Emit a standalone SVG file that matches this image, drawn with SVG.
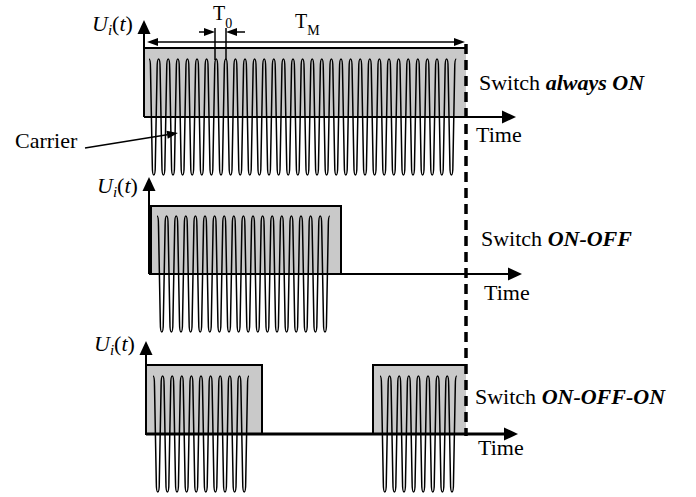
<svg xmlns="http://www.w3.org/2000/svg" width="696" height="497" viewBox="0 0 696 497">
<defs>
<style>
text{font-family:"Liberation Serif","Times New Roman",serif;fill:#000}
.lbl{font-size:22px}
.it{font-style:italic}
.bi{font-style:italic;font-weight:bold}
.sub{font-size:15px;font-style:italic}
.box{fill:#c9c9c9;stroke:none}
.edge{fill:none;stroke:#000;stroke-width:2}
.axis{fill:none;stroke:#000;stroke-width:2}
.wave{fill:none;stroke:#000;stroke-width:1.5;stroke-linejoin:round}
.thin{fill:none;stroke:#000;stroke-width:1.5}
</style>
<marker id="ah" markerUnits="userSpaceOnUse" markerWidth="14" markerHeight="13" refX="0" refY="6.5" orient="auto" overflow="visible">
<path d="M0,0 L14,6.5 L0,13 z" fill="#000"/>
</marker>
<marker id="sa" markerUnits="userSpaceOnUse" markerWidth="11" markerHeight="8" refX="0" refY="4" orient="auto-start-reverse" overflow="visible">
<path d="M0,0 L11,4 L0,8 z" fill="#000"/>
</marker>
</defs>
<rect width="696" height="497" fill="#fff"/>

<g id="panel1">
<rect class="box" x="144" y="48" width="322" height="69"/>
<path class="edge" d="M466,48 H144 V117"/>
<path class="wave" d="M149,59
c1.2,0 1.5,4 1.5,10 l1.8,96 c0,6 0.3,10 1.5,10 c1.2,0 1.5,-4 1.5,-10 l1.8,-96 c0,-6 0.3,-10 1.5,-10 c1.2,0 1.5,4 1.5,10 l1.8,96 c0,6 0.3,10 1.5,10 c1.2,0 1.5,-4 1.5,-10 l1.8,-96 c0,-6 0.3,-10 1.5,-10
c1.2,0 1.5,4 1.5,10 l1.8,96 c0,6 0.3,10 1.5,10 c1.2,0 1.5,-4 1.5,-10 l1.8,-96 c0,-6 0.3,-10 1.5,-10 c1.2,0 1.5,4 1.5,10 l1.8,96 c0,6 0.3,10 1.5,10 c1.2,0 1.5,-4 1.5,-10 l1.8,-96 c0,-6 0.3,-10 1.5,-10
c1.2,0 1.5,4 1.5,10 l1.8,96 c0,6 0.3,10 1.5,10 c1.2,0 1.5,-4 1.5,-10 l1.8,-96 c0,-6 0.3,-10 1.5,-10 c1.2,0 1.5,4 1.5,10 l1.8,96 c0,6 0.3,10 1.5,10 c1.2,0 1.5,-4 1.5,-10 l1.8,-96 c0,-6 0.3,-10 1.5,-10
c1.2,0 1.5,4 1.5,10 l1.8,96 c0,6 0.3,10 1.5,10 c1.2,0 1.5,-4 1.5,-10 l1.8,-96 c0,-6 0.3,-10 1.5,-10 c1.2,0 1.5,4 1.5,10 l1.8,96 c0,6 0.3,10 1.5,10 c1.2,0 1.5,-4 1.5,-10 l1.8,-96 c0,-6 0.3,-10 1.5,-10
c1.2,0 1.5,4 1.5,10 l1.8,96 c0,6 0.3,10 1.5,10 c1.2,0 1.5,-4 1.5,-10 l1.8,-96 c0,-6 0.3,-10 1.5,-10 c1.2,0 1.5,4 1.5,10 l1.8,96 c0,6 0.3,10 1.5,10 c1.2,0 1.5,-4 1.5,-10 l1.8,-96 c0,-6 0.3,-10 1.5,-10
c1.2,0 1.5,4 1.5,10 l1.8,96 c0,6 0.3,10 1.5,10 c1.2,0 1.5,-4 1.5,-10 l1.8,-96 c0,-6 0.3,-10 1.5,-10 c1.2,0 1.5,4 1.5,10 l1.8,96 c0,6 0.3,10 1.5,10 c1.2,0 1.5,-4 1.5,-10 l1.8,-96 c0,-6 0.3,-10 1.5,-10
c1.2,0 1.5,4 1.5,10 l1.8,96 c0,6 0.3,10 1.5,10 c1.2,0 1.5,-4 1.5,-10 l1.8,-96 c0,-6 0.3,-10 1.5,-10 c1.2,0 1.5,4 1.5,10 l1.8,96 c0,6 0.3,10 1.5,10 c1.2,0 1.5,-4 1.5,-10 l1.8,-96 c0,-6 0.3,-10 1.5,-10
c1.2,0 1.5,4 1.5,10 l1.8,96 c0,6 0.3,10 1.5,10 c1.2,0 1.5,-4 1.5,-10 l1.8,-96 c0,-6 0.3,-10 1.5,-10 c1.2,0 1.5,4 1.5,10 l1.8,96 c0,6 0.3,10 1.5,10 c1.2,0 1.5,-4 1.5,-10 l1.8,-96 c0,-6 0.3,-10 1.5,-10
c1.2,0 1.5,4 1.5,10 l1.8,96 c0,6 0.3,10 1.5,10 c1.2,0 1.5,-4 1.5,-10 l1.8,-96 c0,-6 0.3,-10 1.5,-10 c1.2,0 1.5,4 1.5,10 l1.8,96 c0,6 0.3,10 1.5,10 c1.2,0 1.5,-4 1.5,-10 l1.8,-96 c0,-6 0.3,-10 1.5,-10
c1.2,0 1.5,4 1.5,10 l1.8,96 c0,6 0.3,10 1.5,10 c1.2,0 1.5,-4 1.5,-10 l1.8,-96 c0,-6 0.3,-10 1.5,-10 c1.2,0 1.5,4 1.5,10 l1.8,96 c0,6 0.3,10 1.5,10 c1.2,0 1.5,-4 1.5,-10 l1.8,-96 c0,-6 0.3,-10 1.5,-10
c1.2,0 1.5,4 1.5,10 l1.8,96 c0,6 0.3,10 1.5,10 c1.2,0 1.5,-4 1.5,-10 l1.8,-96 c0,-6 0.3,-10 1.5,-10 c1.2,0 1.5,4 1.5,10 l1.8,96 c0,6 0.3,10 1.5,10 c1.2,0 1.5,-4 1.5,-10 l1.8,-96 c0,-6 0.3,-10 1.5,-10
c1.2,0 1.5,4 1.5,10 l1.8,96 c0,6 0.3,10 1.5,10 c1.2,0 1.5,-4 1.5,-10 l1.8,-96 c0,-6 0.3,-10 1.5,-10 c1.2,0 1.5,4 1.5,10 l1.8,96 c0,6 0.3,10 1.5,10 c1.2,0 1.5,-4 1.5,-10 l1.8,-96 c0,-6 0.3,-10 1.5,-10
c1.2,0 1.5,4 1.5,10 l1.8,96 c0,6 0.3,10 1.5,10 c1.2,0 1.5,-4 1.5,-10 l1.8,-96 c0,-6 0.3,-10 1.5,-10 c1.2,0 1.5,4 1.5,10 l1.8,96 c0,6 0.3,10 1.5,10 c1.2,0 1.5,-4 1.5,-10 l1.8,-96 c0,-6 0.3,-10 1.5,-10
c1.2,0 1.5,4 1.5,10 l1.8,96 c0,6 0.3,10 1.5,10 c1.2,0 1.5,-4 1.5,-10 l1.8,-96 c0,-6 0.3,-10 1.5,-10 c1.2,0 1.5,4 1.5,10 l1.8,96 c0,6 0.3,10 1.5,10 c1.2,0 1.5,-4 1.5,-10 l1.8,-96 c0,-6 0.3,-10 1.5,-10
c1.2,0 1.5,4 1.5,10 l1.8,96 c0,6 0.3,10 1.5,10 c1.2,0 1.5,-4 1.5,-10 l1.8,-96 c0,-6 0.3,-10 1.5,-10 c1.2,0 1.5,4 1.5,10 l1.8,96 c0,6 0.3,10 1.5,10 c1.2,0 1.5,-4 1.5,-10 l1.8,-96 c0,-6 0.3,-10 1.5,-10
c1.2,0 1.5,4 1.5,10 l1.8,96 c0,6 0.3,10 1.5,10 c1.2,0 1.5,-4 1.5,-10 l1.8,-96 c0,-6 0.3,-10 1.5,-10 c1.2,0 1.5,4 1.5,10 l1.8,96 c0,6 0.3,10 1.5,10 c1.2,0 1.5,-4 1.5,-10 l1.8,-96 c0,-6 0.3,-10 1.5,-10"/>
<line class="axis" x1="144" y1="117" x2="144" y2="34" marker-end="url(#ah)"/>
<line class="axis" x1="144" y1="117" x2="502" y2="117" marker-end="url(#ah)"/>
<text class="lbl" x="92" y="31"><tspan class="it">U</tspan><tspan class="sub" dy="4">i</tspan><tspan dy="-4">(</tspan><tspan class="it">t</tspan>)</text>
<text class="lbl" x="479" y="90">Switch <tspan class="bi">always ON</tspan></text>
<text class="lbl" x="476" y="142">Time</text>
</g>

<g id="panel2">
<rect class="box" x="151" y="206" width="190" height="68"/>
<rect class="edge" x="151" y="206" width="190" height="68"/>
<path class="wave" d="M157,216
c1.2,0 1.5,4 1.5,10 l1.8,96 c0,6 0.3,10 1.5,10 c1.2,0 1.5,-4 1.5,-10 l1.8,-96 c0,-6 0.3,-10 1.5,-10 c1.2,0 1.5,4 1.5,10 l1.8,96 c0,6 0.3,10 1.5,10 c1.2,0 1.5,-4 1.5,-10 l1.8,-96 c0,-6 0.3,-10 1.5,-10
c1.2,0 1.5,4 1.5,10 l1.8,96 c0,6 0.3,10 1.5,10 c1.2,0 1.5,-4 1.5,-10 l1.8,-96 c0,-6 0.3,-10 1.5,-10 c1.2,0 1.5,4 1.5,10 l1.8,96 c0,6 0.3,10 1.5,10 c1.2,0 1.5,-4 1.5,-10 l1.8,-96 c0,-6 0.3,-10 1.5,-10
c1.2,0 1.5,4 1.5,10 l1.8,96 c0,6 0.3,10 1.5,10 c1.2,0 1.5,-4 1.5,-10 l1.8,-96 c0,-6 0.3,-10 1.5,-10 c1.2,0 1.5,4 1.5,10 l1.8,96 c0,6 0.3,10 1.5,10 c1.2,0 1.5,-4 1.5,-10 l1.8,-96 c0,-6 0.3,-10 1.5,-10
c1.2,0 1.5,4 1.5,10 l1.8,96 c0,6 0.3,10 1.5,10 c1.2,0 1.5,-4 1.5,-10 l1.8,-96 c0,-6 0.3,-10 1.5,-10 c1.2,0 1.5,4 1.5,10 l1.8,96 c0,6 0.3,10 1.5,10 c1.2,0 1.5,-4 1.5,-10 l1.8,-96 c0,-6 0.3,-10 1.5,-10
c1.2,0 1.5,4 1.5,10 l1.8,96 c0,6 0.3,10 1.5,10 c1.2,0 1.5,-4 1.5,-10 l1.8,-96 c0,-6 0.3,-10 1.5,-10 c1.2,0 1.5,4 1.5,10 l1.8,96 c0,6 0.3,10 1.5,10 c1.2,0 1.5,-4 1.5,-10 l1.8,-96 c0,-6 0.3,-10 1.5,-10
c1.2,0 1.5,4 1.5,10 l1.8,96 c0,6 0.3,10 1.5,10 c1.2,0 1.5,-4 1.5,-10 l1.8,-96 c0,-6 0.3,-10 1.5,-10 c1.2,0 1.5,4 1.5,10 l1.8,96 c0,6 0.3,10 1.5,10 c1.2,0 1.5,-4 1.5,-10 l1.8,-96 c0,-6 0.3,-10 1.5,-10
c1.2,0 1.5,4 1.5,10 l1.8,96 c0,6 0.3,10 1.5,10 c1.2,0 1.5,-4 1.5,-10 l1.8,-96 c0,-6 0.3,-10 1.5,-10 c1.2,0 1.5,4 1.5,10 l1.8,96 c0,6 0.3,10 1.5,10 c1.2,0 1.5,-4 1.5,-10 l1.8,-96 c0,-6 0.3,-10 1.5,-10
c1.2,0 1.5,4 1.5,10 l1.8,96 c0,6 0.3,10 1.5,10 c1.2,0 1.5,-4 1.5,-10 l1.8,-96 c0,-6 0.3,-10 1.5,-10 c1.2,0 1.5,4 1.5,10 l1.8,96 c0,6 0.3,10 1.5,10 c1.2,0 1.5,-4 1.5,-10 l1.8,-96 c0,-6 0.3,-10 1.5,-10
c1.2,0 1.5,4 1.5,10 l1.8,96 c0,6 0.3,10 1.5,10 c1.2,0 1.5,-4 1.5,-10 l1.8,-96 c0,-6 0.3,-10 1.5,-10 c1.2,0 1.5,4 1.5,10 l1.8,96 c0,6 0.3,10 1.5,10 c1.2,0 1.5,-4 1.5,-10 l1.8,-96 c0,-6 0.3,-10 1.5,-10"/>
<line class="axis" x1="149" y1="274" x2="149" y2="191" marker-end="url(#ah)"/>
<line class="axis" x1="149" y1="274" x2="508" y2="274" marker-end="url(#ah)"/>
<text class="lbl" x="97" y="193"><tspan class="it">U</tspan><tspan class="sub" dy="4">i</tspan><tspan dy="-4">(</tspan><tspan class="it">t</tspan>)</text>
<text class="lbl" x="481" y="246">Switch <tspan class="bi">ON-OFF</tspan></text>
<text class="lbl" x="484" y="300">Time</text>
</g>

<g id="panel3">
<rect class="box" x="146" y="365" width="116" height="69"/>
<rect class="edge" x="146" y="365" width="116" height="69"/>
<rect class="box" x="373" y="365" width="93" height="69"/>
<path class="edge" d="M466,365 H373 V434"/>
<path class="wave" d="M153,376
c1.2,0 1.5,4 1.5,10 l1.8,96 c0,6 0.3,10 1.5,10 c1.2,0 1.5,-4 1.5,-10 l1.8,-96 c0,-6 0.3,-10 1.5,-10 c1.2,0 1.5,4 1.5,10 l1.8,96 c0,6 0.3,10 1.5,10 c1.2,0 1.5,-4 1.5,-10 l1.8,-96 c0,-6 0.3,-10 1.5,-10
c1.2,0 1.5,4 1.5,10 l1.8,96 c0,6 0.3,10 1.5,10 c1.2,0 1.5,-4 1.5,-10 l1.8,-96 c0,-6 0.3,-10 1.5,-10 c1.2,0 1.5,4 1.5,10 l1.8,96 c0,6 0.3,10 1.5,10 c1.2,0 1.5,-4 1.5,-10 l1.8,-96 c0,-6 0.3,-10 1.5,-10
c1.2,0 1.5,4 1.5,10 l1.8,96 c0,6 0.3,10 1.5,10 c1.2,0 1.5,-4 1.5,-10 l1.8,-96 c0,-6 0.3,-10 1.5,-10 c1.2,0 1.5,4 1.5,10 l1.8,96 c0,6 0.3,10 1.5,10 c1.2,0 1.5,-4 1.5,-10 l1.8,-96 c0,-6 0.3,-10 1.5,-10
c1.2,0 1.5,4 1.5,10 l1.8,96 c0,6 0.3,10 1.5,10 c1.2,0 1.5,-4 1.5,-10 l1.8,-96 c0,-6 0.3,-10 1.5,-10 c1.2,0 1.5,4 1.5,10 l1.8,96 c0,6 0.3,10 1.5,10 c1.2,0 1.5,-4 1.5,-10 l1.8,-96 c0,-6 0.3,-10 1.5,-10
c1.2,0 1.5,4 1.5,10 l1.8,96 c0,6 0.3,10 1.5,10 c1.2,0 1.5,-4 1.5,-10 l1.8,-96 c0,-6 0.3,-10 1.5,-10 c1.2,0 1.5,4 1.5,10 l1.8,96 c0,6 0.3,10 1.5,10 c1.2,0 1.5,-4 1.5,-10 l1.8,-96 c0,-6 0.3,-10 1.5,-10"/>
<path class="wave" d="M380,376
c1.2,0 1.5,4 1.5,10 l1.8,96 c0,6 0.3,10 1.5,10 c1.2,0 1.5,-4 1.5,-10 l1.8,-96 c0,-6 0.3,-10 1.5,-10 c1.2,0 1.5,4 1.5,10 l1.8,96 c0,6 0.3,10 1.5,10 c1.2,0 1.5,-4 1.5,-10 l1.8,-96 c0,-6 0.3,-10 1.5,-10
c1.2,0 1.5,4 1.5,10 l1.8,96 c0,6 0.3,10 1.5,10 c1.2,0 1.5,-4 1.5,-10 l1.8,-96 c0,-6 0.3,-10 1.5,-10 c1.2,0 1.5,4 1.5,10 l1.8,96 c0,6 0.3,10 1.5,10 c1.2,0 1.5,-4 1.5,-10 l1.8,-96 c0,-6 0.3,-10 1.5,-10
c1.2,0 1.5,4 1.5,10 l1.8,96 c0,6 0.3,10 1.5,10 c1.2,0 1.5,-4 1.5,-10 l1.8,-96 c0,-6 0.3,-10 1.5,-10 c1.2,0 1.5,4 1.5,10 l1.8,96 c0,6 0.3,10 1.5,10 c1.2,0 1.5,-4 1.5,-10 l1.8,-96 c0,-6 0.3,-10 1.5,-10
c1.2,0 1.5,4 1.5,10 l1.8,96 c0,6 0.3,10 1.5,10 c1.2,0 1.5,-4 1.5,-10 l1.8,-96 c0,-6 0.3,-10 1.5,-10 c1.2,0 1.5,4 1.5,10 l1.8,96 c0,6 0.3,10 1.5,10 c1.2,0 1.5,-4 1.5,-10 l1.8,-96 c0,-6 0.3,-10 1.5,-10"/>
<line class="axis" x1="146" y1="434" x2="146" y2="355" marker-end="url(#ah)"/>
<line class="axis" style="stroke-width:3" x1="146" y1="434" x2="504" y2="434" marker-end="url(#ah)"/>
<text class="lbl" x="94" y="351"><tspan class="it">U</tspan><tspan class="sub" dy="4">i</tspan><tspan dy="-4">(</tspan><tspan class="it">t</tspan>)</text>
<text class="lbl" x="475" y="404">Switch <tspan class="bi">ON-OFF-ON</tspan></text>
<text class="lbl" x="478" y="455">Time</text>
</g>

<g id="connectors">
<line x1="466" y1="44" x2="466" y2="436" stroke="#000" stroke-width="3.5" stroke-dasharray="10 6"/>
<line class="thin" x1="158" y1="42" x2="454" y2="42" marker-start="url(#sa)" marker-end="url(#sa)"/>
<line class="thin" x1="215" y1="28" x2="215" y2="60"/>
<line class="thin" x1="226" y1="28" x2="226" y2="60"/>
<line class="thin" x1="199" y1="32" x2="204" y2="32" marker-end="url(#sa)"/>
<line class="thin" x1="245" y1="32" x2="237" y2="32" marker-end="url(#sa)"/>
<line class="thin" x1="85" y1="148" x2="167.1" y2="134.75" marker-end="url(#sa)"/>
</g>

<g id="labels">
<text x="213" y="20" style="font-size:20px">T<tspan dy="8" style="font-size:14px">0</tspan></text>
<text x="295" y="28" style="font-size:20px">T<tspan dy="7" style="font-size:14px">M</tspan></text>
<text class="lbl" x="15" y="148">Carrier</text>
</g>
</svg>
